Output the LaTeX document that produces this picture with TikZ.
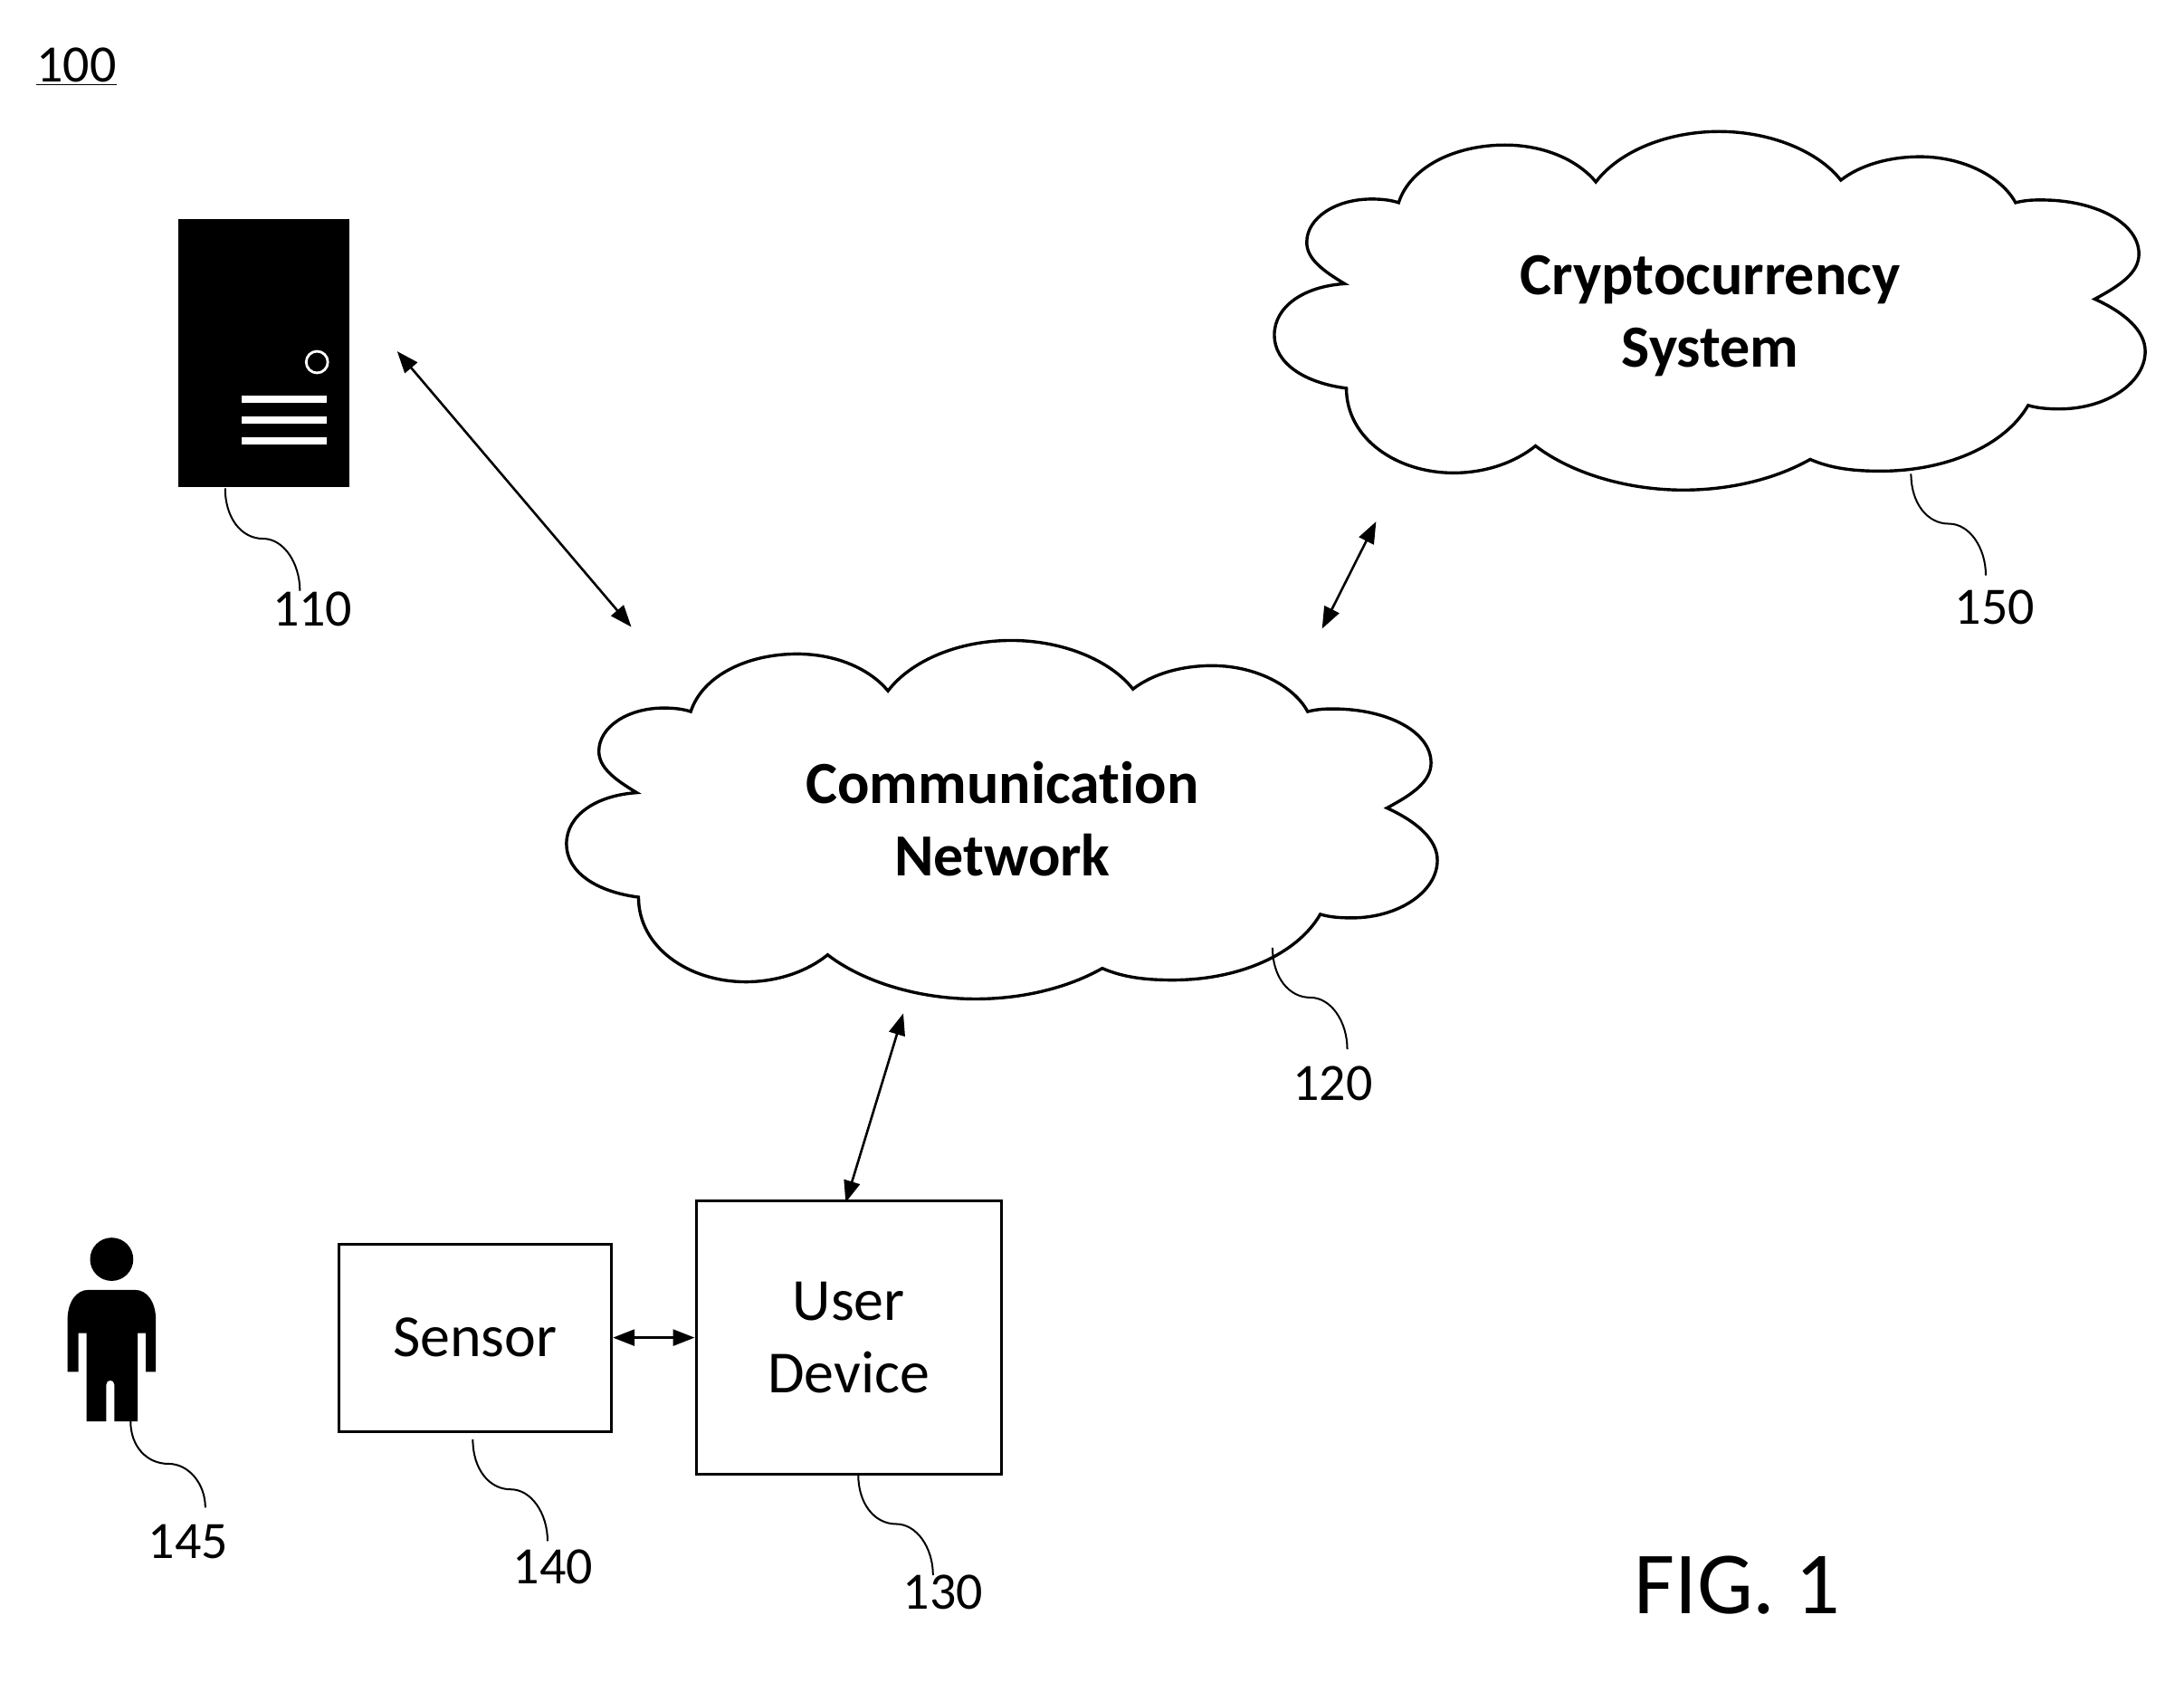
\documentclass[tikz,border=0pt]{standalone}
\usepackage{fontspec}
\setmainfont{Carlito}[Ligatures=NoCommon]
\usetikzlibrary{arrows.meta}
\newcommand{\cloudshape}{%
  \draw[cloudline]
    (707,880) .. controls (682,865) and (665,852) .. (665,834)
    .. controls (665,807) and (697,786) .. (737,786)
    .. controls (748,786) and (758,787) .. (767,790)
    .. controls (780,750) and (830,726) .. (885,726)
    .. controls (932,726) and (968,745) .. (986,767)
    .. controls (1012,733) and (1065,711) .. (1123,711)
    .. controls (1180,711) and (1233,733) .. (1258,765)
    .. controls (1280,748) and (1312,739) .. (1346,739)
    .. controls (1395,739) and (1437,762) .. (1452,790)
    .. controls (1464,787) and (1472,787) .. (1481,787)
    .. controls (1540,787) and (1589,812) .. (1589,847)
    .. controls (1589,868) and (1568,882) .. (1540,897)
    .. controls (1573,912) and (1596,932) .. (1596,955)
    .. controls (1596,990) and (1553,1019) .. (1501,1019)
    .. controls (1487,1019) and (1476,1018) .. (1466,1015)
    .. controls (1440,1060) and (1375,1088) .. (1302,1088)
    .. controls (1272,1088) and (1247,1085) .. (1224,1075)
    .. controls (1185,1097) and (1135,1109) .. (1083,1109)
    .. controls (1020,1109) and (958,1090) .. (919,1060)
    .. controls (897,1078) and (864,1090) .. (828,1090)
    .. controls (765,1090) and (709,1052) .. (709,996)
    .. controls (662,990) and (629,968) .. (629,937)
    .. controls (629,905) and (662,883) .. (707,880) -- cycle;
}
\newcommand{\leaderline}[3]{%
  \draw[leaderstyle,shift={(#1,#2)},yscale=#3]
    (0,0) .. controls (0,33) and (18,56) .. (42,56) .. controls (65,56) and (83,83) .. (83,114);
}
\tikzset{
  cloudline/.style={line width=1.7pt,line join=miter},
  leaderstyle/.style={line width=1pt},
  boxnode/.style={draw,line width=1.6pt,inner sep=0pt,align=center,font=\fontsize{33}{40}\selectfont},
  cloudtext/.style={inner sep=0pt,align=center,font=\fontsize{33}{40}\selectfont\bfseries},
  reflabel/.style={inner sep=0pt,font=\fontsize{29}{35}\selectfont},
  both/.style={line width=1.3pt,{Triangle[length=12pt,width=9pt]}-{Triangle[length=12pt,width=9pt]}}
}
\begin{document}
\begin{tikzpicture}[x=0.4975pt,y=-0.4975pt]
\useasboundingbox (0,0) rectangle (2425.1,1866.6);
% title
\node[reflabel] (fig) at (85,74) {\underline{100}};
% server
\fill (198,243) rectangle (388,541);
\draw[white,line width=1.4pt,fill=black] (352,402) circle [radius=12];
\fill[white] (268,439) rectangle (363,447);
\fill[white] (268,462) rectangle (363,470);
\fill[white] (268,485) rectangle (363,493);
% clouds
\cloudshape
\begin{scope}[shift={(786,-565)}]
\cloudshape
\end{scope}
\node[cloudtext] (net) at (1113,909) {Communication\\Network};
\node[cloudtext] (crypto) at (1899,351) {Cryptocurrency\\System};
% boxes
\node[boxnode,minimum width=150.7pt,minimum height=103.5pt] (sensor) at (527.5,1485) {Sensor};
\node[boxnode,minimum width=168.7pt,minimum height=151pt] (user) at (942.5,1485) {User\\Device};
% person
\fill (124,1398) ellipse [x radius=24,y radius=24];
\fill (75,1523) -- (75,1465) .. controls (75,1445) and (85,1432) .. (98,1432) -- (150,1432)
  .. controls (163,1432) and (173,1445) .. (173,1465) -- (173,1523) -- (162,1523) -- (162,1480)
  -- (153,1480) -- (153,1578) -- (127,1578) -- (127,1537) .. controls (127,1531) and (118,1531) .. (118,1537)
  -- (118,1578) -- (96,1578) -- (96,1480) -- (87,1480) -- (87,1523) -- cycle;
% arrows
\coordinate (a1) at (441,390);
\coordinate (a2) at (701,696);
\coordinate (b1) at (1468,698);
\coordinate (b2) at (1528,579);
\coordinate (c1) at (1003,1125);
\draw[both] (a1) -- (a2);
\draw[both] (b1) -- (b2);
\draw[both] (c1) -- (939,1335);
\draw[both] (sensor.east) -- (user.west);
% leaders
\leaderline{250}{542}{1}
\leaderline{1413}{1052}{.99}
\leaderline{2122}{526}{.99}
\leaderline{145}{1578}{.84}
\leaderline{525}{1598}{.99}
\leaderline{953}{1637}{.98}
% labels
\node[reflabel] (l110) at (347,676) {110};
\node[reflabel] (l120) at (1480,1203) {120};
\node[reflabel] (l130) at (1047,1768) {130};
\node[reflabel] (l140) at (614,1740) {140};
\node[reflabel] (l145) at (209,1712) {145};
\node[reflabel] (l150) at (2215,674) {150};
\node[inner sep=0pt,font=\fontsize{49}{59}\selectfont] (figlabel) at (1929,1760) {FIG. 1};
\end{tikzpicture}
\end{document}
